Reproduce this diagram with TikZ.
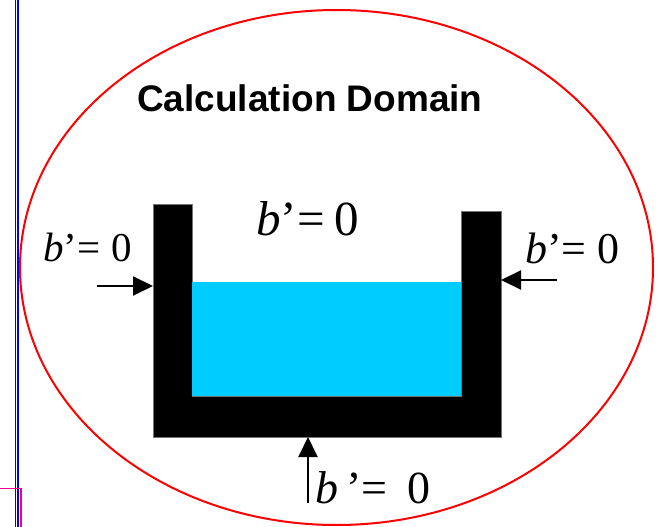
\documentclass[tikz,border=0pt]{standalone}
\usepackage{fontspec}
\setmainfont{Liberation Serif}
\newfontfamily\titlefont{Liberation Sans}
\usetikzlibrary{positioning,arrows.meta,shapes.geometric}
\definecolor{waterblue}{RGB}{0,204,255}
\definecolor{domainred}{RGB}{255,0,0}

\begin{document}
\begin{tikzpicture}[
  x=1pt,y=-1pt,
  bnd/.style={font=\fontsize{#1}{#1}\selectfont,anchor=base west,inner sep=0pt},
  push/.style={-{Triangle[length=20pt,width=19pt]},line width=2pt},
  wall/.style={fill=black,draw=black!55,line width=0.8pt},
  water/.style={fill=waterblue,draw=none}
]
\useasboundingbox (0,0) rectangle (662,527);
% ---- page marks ----
\draw[blue,line width=1.3pt] (15.6,0) -- (15.6,527);
\draw[blue,line width=1.3pt] (18.0,0) -- (18.0,527);
\draw[magenta,line width=1.3pt] (0,488.5) -| (21,530);
% ---- domain ----
\node[ellipse,draw=domainred,line width=2pt,minimum width=633pt,minimum height=515pt,inner sep=0pt] (domain) at (336.5,267.5) {};
\node[anchor=base west,inner sep=0pt,font=\titlefont\bfseries\fontsize{37}{37}\selectfont] (title) at (137,112) {Calculation Domain};
% ---- tank ----
\coordinate (tl) at (153,204);
\coordinate (bl) at (153,437);
\coordinate (br) at (501,437);
\coordinate (tr) at (501,211);
\draw[wall] (tl) -- (bl) -- (br) -- (tr) -- (461,211) -- (461,396) -- (192,396) -- (192,204) -- cycle;
\fill[water] (192,282) rectangle (461,396);
% ---- boundary conditions ----
\node[bnd=41] (bcl) at (43,261) {\textit{b}’=\hspace{11pt}0};
\node[bnd=49] (bct) at (256,235) {\textit{b}’=\hspace{10pt}0};
\node[bnd=44] (bcr) at (525,263) {\textit{b}’=\hspace{11pt}0};
\node[bnd=46] (bcb) at (315,503) {\textit{b}\hspace{8pt}’=\hspace{20pt}0};
\coordinate (inl) at (97,286);
\coordinate (inr) at (557,280);
\coordinate (inb) at (308,503);
\draw[push] (inl) -- (inl -| tl);
\draw[push] (inr) -- (inr -| tr);
\draw[push] (inb) -- (inb |- bl);
\end{tikzpicture}
\end{document}
